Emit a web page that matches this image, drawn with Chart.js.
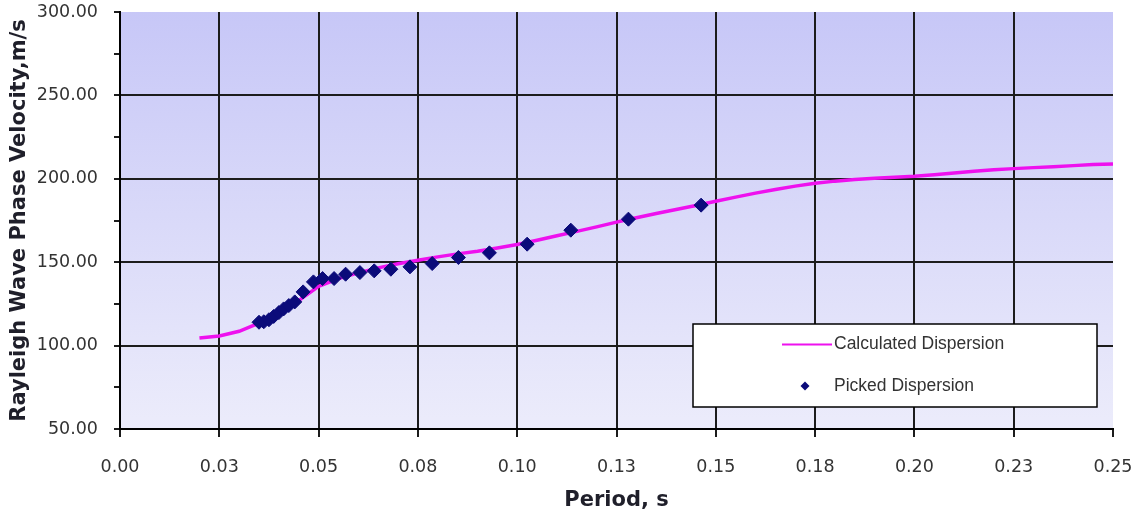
<!DOCTYPE html>
<html>
<head>
<meta charset="utf-8">
<title>Rayleigh Wave Dispersion</title>
<script src="https://cdn.jsdelivr.net/npm/chart.js@4.4.1/dist/chart.umd.min.js"></script>
<style>
  html, body { margin: 0; padding: 0; background: #ffffff; }
  #wrap { width: 1137px; height: 518px; position: relative; }
</style>
</head>
<body>
<div id="wrap"><canvas id="dispersion-chart"></canvas></div>
<script>
// calculated dispersion curve
const calcPeriod = [0.020, 0.025, 0.030, 0.035, 0.040, 0.045, 0.050, 0.055, 0.060, 0.065,
  0.070, 0.075, 0.080, 0.085, 0.090, 0.095, 0.100, 0.105, 0.110, 0.115,
  0.120, 0.125, 0.130, 0.135, 0.140, 0.145, 0.150, 0.155, 0.160, 0.165,
  0.170, 0.175, 0.180, 0.185, 0.190, 0.195, 0.200, 0.205, 0.210, 0.215,
  0.220, 0.225, 0.230, 0.235, 0.240, 0.245, 0.250];
const calcVelocity = [104.5, 105.8, 108.6, 113.5, 119.0, 127.0, 135.5, 140.2, 143.6, 146.6,
  149.1, 151.2, 153.2, 155.0, 156.6, 158.5, 160.6, 163.2, 165.9, 168.5,
  171.2, 174.0, 176.6, 179.2, 181.6, 184.0, 186.5, 189.0, 191.4, 193.6,
  195.6, 197.3, 198.6, 199.6, 200.3, 200.9, 201.5, 202.4, 203.5, 204.5,
  205.4, 206.1, 206.7, 207.2, 207.9, 208.5, 208.9];

// picked dispersion points
const pickedPeriod = [0.0350, 0.0362, 0.0375, 0.0387, 0.0400, 0.0412, 0.0425, 0.0440, 0.0461,
  0.0487, 0.0510, 0.0539, 0.0568, 0.0604, 0.0640, 0.0682, 0.0730, 0.0786,
  0.0852, 0.0930, 0.1025, 0.1135, 0.1280, 0.1463];
const pickedVelocity = [114.0, 114.3, 115.5, 117.5, 119.8, 122.0, 124.0, 126.2, 132.2,
  138.2, 140.2, 140.2, 142.8, 143.8, 144.8, 145.8, 147.2, 149.2,
  152.8, 155.6, 160.8, 169.2, 175.8, 184.2];

// axis labels
const xTickLabels = ['0.00', '0.03', '0.05', '0.08', '0.10', '0.13', '0.15', '0.18', '0.20', '0.23', '0.25'];
const yTickLabels = ['50.00', '100.00', '150.00', '200.00', '250.00', '300.00'];

const calcPoints = calcPeriod.map((p, i) => ({ x: p, y: calcVelocity[i] }));
const pickedPoints = pickedPeriod.map((p, i) => ({ x: p, y: pickedVelocity[i] }));

// plot area fill, lavender fading to near white
const plotBackground = {
  id: 'plotBackground',
  beforeDraw(chart) {
    const { ctx, chartArea: a } = chart;
    const g = ctx.createLinearGradient(0, a.top, 0, a.bottom);
    g.addColorStop(0, '#c7c7f7');
    g.addColorStop(1, '#ececfb');
    ctx.save();
    ctx.fillStyle = g;
    ctx.fillRect(a.left, a.top, a.right - a.left, a.bottom - a.top);
    ctx.restore();
  }
};

// boxed legend inside the plot, lower right
const boxLegend = {
  id: 'boxLegend',
  afterDraw(chart) {
    const { ctx, chartArea: a } = chart;
    const w = 404, h = 83;
    const bx = a.right - 16 - w, by = a.bottom - 22 - h;
    ctx.save();
    ctx.fillStyle = '#ffffff';
    ctx.fillRect(bx, by, w, h);
    ctx.strokeStyle = '#000000';
    ctx.lineWidth = 1.5;
    ctx.strokeRect(bx, by, w, h);

    const line = chart.data.datasets[0];
    const pts = chart.data.datasets[1];
    const row1 = by + 20.5, row2 = by + 62;

    ctx.strokeStyle = line.borderColor;
    ctx.lineWidth = 2;
    ctx.beginPath();
    ctx.moveTo(bx + 89, row1);
    ctx.lineTo(bx + 139, row1);
    ctx.stroke();

    ctx.fillStyle = pts.backgroundColor;
    ctx.beginPath();
    const mx = bx + 112, r = 4.5;
    ctx.moveTo(mx, row2 - r);
    ctx.lineTo(mx + r, row2);
    ctx.lineTo(mx, row2 + r);
    ctx.lineTo(mx - r, row2);
    ctx.closePath();
    ctx.fill();

    ctx.fillStyle = '#333333';
    ctx.font = '17.5px "Liberation Sans", Arial, sans-serif';
    ctx.textBaseline = 'middle';
    ctx.textAlign = 'left';
    ctx.fillText(line.label, bx + 141, row1);
    ctx.fillText(pts.label, bx + 141, row2);
    ctx.restore();
  }
};

const data = {
  datasets: [{
    label: 'Calculated Dispersion',
    data: calcPoints,
    showLine: true,
    borderColor: '#ee11ee',
    borderWidth: 3.5,
    pointRadius: 0,
    tension: 0,
    order: 2
  }, {
    label: 'Picked Dispersion',
    data: pickedPoints,
    showLine: false,
    pointStyle: 'rectRot',
    pointRadius: 7,
    backgroundColor: '#0b0b7a',
    borderColor: '#0b0b7a',
    borderWidth: 1,
    order: 1
  }]
};

const config = {
  type: 'scatter',
  data,
  options: {
    responsive: true,
    maintainAspectRatio: false,
    animation: false,
    layout: { padding: { top: 12, right: 24, left: 0, bottom: 0 } },
    plugins: {
      legend: { display: false },
      tooltip: { enabled: false }
    },
    scales: {
      x: {
        type: 'linear',
        min: 0,
        max: 0.25,
        // fixed axis band; end labels may hang past the plot edge
        afterFit: (s) => { s.height = 89; s.paddingLeft = 0; s.paddingRight = 0; },
        ticks: {
          stepSize: 0.025,
          padding: 20,
          color: '#333333',
          font: { family: '"DejaVu Sans", sans-serif', size: 17.5 },
          callback: (v) => xTickLabels[Math.round(v / 0.025)]
        },
        grid: {
          color: (c) => (c.tick && Math.round(c.tick.value / 0.025) === 10 ? 'rgba(0,0,0,0)' : '#1c1c1c'),
          tickColor: '#1c1c1c',
          lineWidth: 2,
          tickLength: 8
        },
        border: { color: '#000000', width: 2 },
        title: {
          display: true,
          text: 'Period, s',
          color: '#1f1f2a',
          font: { family: '"DejaVu Sans", sans-serif', size: 21, weight: 'bold' },
          padding: { top: 0, bottom: 5 }
        }
      },
      y: {
        min: 50,
        max: 300,
        afterFit: (s) => { s.width = 120; s.paddingTop = 0; s.paddingBottom = 0; },
        ticks: {
          stepSize: 25,
          padding: 16,
          color: '#333333',
          font: { family: '"DejaVu Sans", sans-serif', size: 17.5 },
          callback: (v) => (v % 50 === 0 ? yTickLabels[(v - 50) / 50] : '')
        },
        grid: {
          color: (c) => {
            const v = c.tick ? c.tick.value : 0;
            return (v % 50 !== 0 || v === 300) ? 'rgba(0,0,0,0)' : '#1c1c1c';
          },
          tickColor: '#1c1c1c',
          lineWidth: 2,
          tickLength: 6
        },
        border: { color: '#000000', width: 2 },
        title: {
          display: true,
          text: 'Rayleigh Wave Phase Velocity,m/s',
          color: '#1f1f2a',
          font: { family: '"DejaVu Sans", sans-serif', size: 21, weight: 'bold' },
          padding: { top: 7, bottom: 0 }
        }
      }
    }
  },
  plugins: [plotBackground, boxLegend]
};

const dispersionChart = new Chart(document.getElementById('dispersion-chart'), config);
</script>
</body>
</html>
